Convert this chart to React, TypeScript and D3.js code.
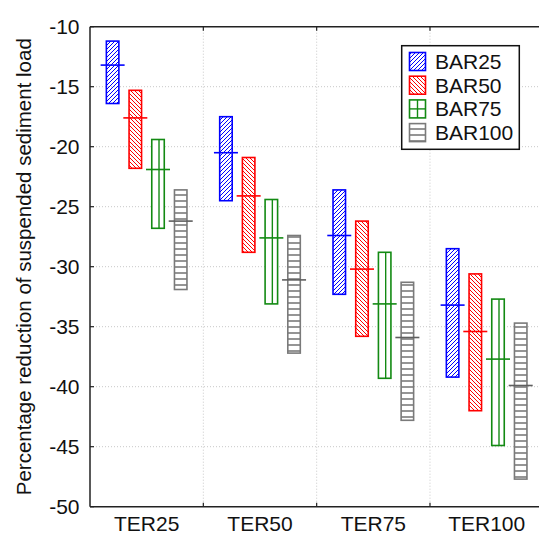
import React from "react";
import * as d3 from "d3";

const categories = ["TER25", "TER50", "TER75", "TER100"];
const seriesNames = ["BAR25", "BAR50", "BAR75", "BAR100"];
const yTicks = [-10, -15, -20, -25, -30, -35, -40, -45, -50];

const bar25Max = [-11.2, -17.5, -23.6, -28.5];
const bar25Med = [-13.2, -20.5, -27.4, -33.2];
const bar25Min = [-16.4, -24.5, -32.3, -39.2];

const bar50Max = [-15.3, -20.9, -26.2, -30.6];
const bar50Med = [-17.6, -24.1, -30.2, -35.4];
const bar50Min = [-21.8, -28.8, -35.8, -42.0];

const bar75Max = [-19.4, -24.4, -28.8, -32.7];
const bar75Med = [-21.9, -27.6, -33.1, -37.7];
const bar75Min = [-26.8, -33.1, -39.3, -44.9];

const bar100Max = [-23.6, -27.4, -31.3, -34.7];
const bar100Med = [-26.2, -31.1, -35.9, -39.9];
const bar100Min = [-31.9, -37.2, -42.8, -47.7];

const seriesData = [
  { name: seriesNames[0], max: bar25Max, med: bar25Med, min: bar25Min },
  { name: seriesNames[1], max: bar50Max, med: bar50Med, min: bar50Min },
  { name: seriesNames[2], max: bar75Max, med: bar75Med, min: bar75Min },
  { name: seriesNames[3], max: bar100Max, med: bar100Med, min: bar100Min },
];

const colors = ["#0000ff", "#ff0000", "#138a13", "#7a7a7a"];
const medColors = ["#0000ff", "#ff0000", "#138a13", "#5f5f5f"];
const fills = ["url(#hatchUp)", "url(#hatchDown)", "white", "url(#hatchH)"];

const W = 539;
const H = 545;
const left = 90;
const top = 26.7;
const bottom = 506.7;
const FONT = "'Liberation Sans', Arial, sans-serif";

export default function App() {
  const y = d3.scaleLinear().domain([-50, -10]).range([bottom, top]);
  const x = d3.scaleBand().domain(categories).range([left, left + 4 * 113.33]).padding(0);
  const barW = 12.5;
  const medW = 24;

  return (
    <svg width={W} height={H} style={{ position: "absolute", left: 0, top: 0, background: "white" }}>
      <defs>
        <pattern id="hatchUp" patternUnits="userSpaceOnUse" width={4} height={4}>
          <path d="M-1,1 l2,-2 M0,4 l4,-4 M3,5 l2,-2" stroke={colors[0]} strokeWidth={1} />
        </pattern>
        <pattern id="hatchDown" patternUnits="userSpaceOnUse" width={4} height={4}>
          <path d="M-1,3 l2,2 M0,0 l4,4 M3,-1 l2,2" stroke={colors[1]} strokeWidth={1} />
        </pattern>
        <pattern id="hatchH" patternUnits="userSpaceOnUse" width={10} height={6}>
          <rect width={10} height={6} fill="white" />
          <line x1={0} x2={10} y1={3} y2={3} stroke={colors[3]} strokeWidth={1.6} />
        </pattern>
      </defs>
      <rect width={W} height={H} fill="white" />

      {/* grid */}
      {yTicks.slice(1, -1).map((t) => (
        <line key={"g" + t} x1={left} x2={W} y1={y(t)} y2={y(t)} stroke="#c8c8c8" strokeWidth={1} strokeDasharray="1,2" />
      ))}
      {categories.slice(1).map((c) => (
        <line key={"gv" + c} x1={x(c)!} x2={x(c)!} y1={top} y2={bottom} stroke="#c8c8c8" strokeWidth={1} strokeDasharray="1,2" />
      ))}

      {/* bars */}
      {seriesData.map((s, si) => {
        return categories.map((c, ci) => {
          const inner = d3
            .scaleBand()
            .domain(seriesNames)
            .range([x(c)! + x.bandwidth() / 2 - 45.4, x(c)! + x.bandwidth() / 2 + 45.4]);
          const cx = inner(s.name)! + inner.bandwidth() / 2;
          const y0 = y(s.max[ci]);
          const y1 = y(s.min[ci]);
          const ym = y(s.med[ci]);
          return (
            <g key={s.name + c}>
              <rect x={cx - barW / 2} y={y0} width={barW} height={y1 - y0} fill={fills[si]} stroke={colors[si]} strokeWidth={1.6} />
              {si === 2 && <line x1={cx + 1} x2={cx + 1} y1={y0} y2={y1} stroke={colors[si]} strokeWidth={1.4} />}
              <line x1={cx - medW / 2} x2={cx + medW / 2} y1={ym} y2={ym} stroke={medColors[si]} strokeWidth={1.6} />
            </g>
          );
        });
      })}

      {/* axes */}
      <line x1={left} x2={left} y1={top} y2={bottom} stroke="#222" strokeWidth={1.5} />
      <line x1={left} x2={W} y1={bottom} y2={bottom} stroke="#222" strokeWidth={1.5} />
      <line x1={left} x2={W} y1={top} y2={top} stroke="#222" strokeWidth={1.5} />
      {yTicks.map((t) => (
        <g key={"t" + t}>
          <line x1={left} x2={left + 4} y1={y(t)} y2={y(t)} stroke="#222" strokeWidth={1.2} />
          <text x={79.5} y={y(t)} dy="0.36em" textAnchor="end" fontFamily={FONT} fontSize={21} fill="#111">
            {t}
          </text>
        </g>
      ))}
      {categories.slice(1).map((c) => (
        <g key={"xt" + c}>
          <line x1={x(c)!} x2={x(c)!} y1={bottom} y2={bottom - 4} stroke="#222" strokeWidth={1.2} />
          <line x1={x(c)!} x2={x(c)!} y1={top} y2={top + 4} stroke="#222" strokeWidth={1.2} />
        </g>
      ))}
      {categories.map((c) => (
        <text key={"xl" + c} x={x(c)! + x.bandwidth() / 2} y={531} textAnchor="middle" fontFamily={FONT} fontSize={21} fill="#111">
          {c}
        </text>
      ))}
      <text
        transform={`translate(31, ${(top + bottom) / 2}) rotate(-90)`}
        textAnchor="middle"
        fontFamily={FONT}
        fontSize={20.5}
        fill="#111"
      >
        Percentage reduction of suspended sediment load
      </text>

      {/* legend */}
      <rect x={401.7} y={45.7} width={117.6} height={103.6} fill="white" stroke="#111" strokeWidth={1.5} />
      {seriesNames.map((n, i) => {
        const ly = 52.5 + i * 23.7;
        return (
          <g key={"lg" + n}>
            <rect x={409.5} y={ly} width={16} height={18} fill={fills[i]} stroke={colors[i]} strokeWidth={1.6} />
            {i === 2 && (
              <>
                <line x1={417.5} x2={417.5} y1={ly} y2={ly + 18} stroke={colors[i]} strokeWidth={1.4} />
                <line x1={409.5} x2={425.5} y1={ly + 9} y2={ly + 9} stroke={colors[i]} strokeWidth={1.4} />
              </>
            )}
            <text x={435} y={ly + 16.5} fontFamily={FONT} fontSize={21} fill="#111">
              {n}
            </text>
          </g>
        );
      })}
    </svg>
  );
}
